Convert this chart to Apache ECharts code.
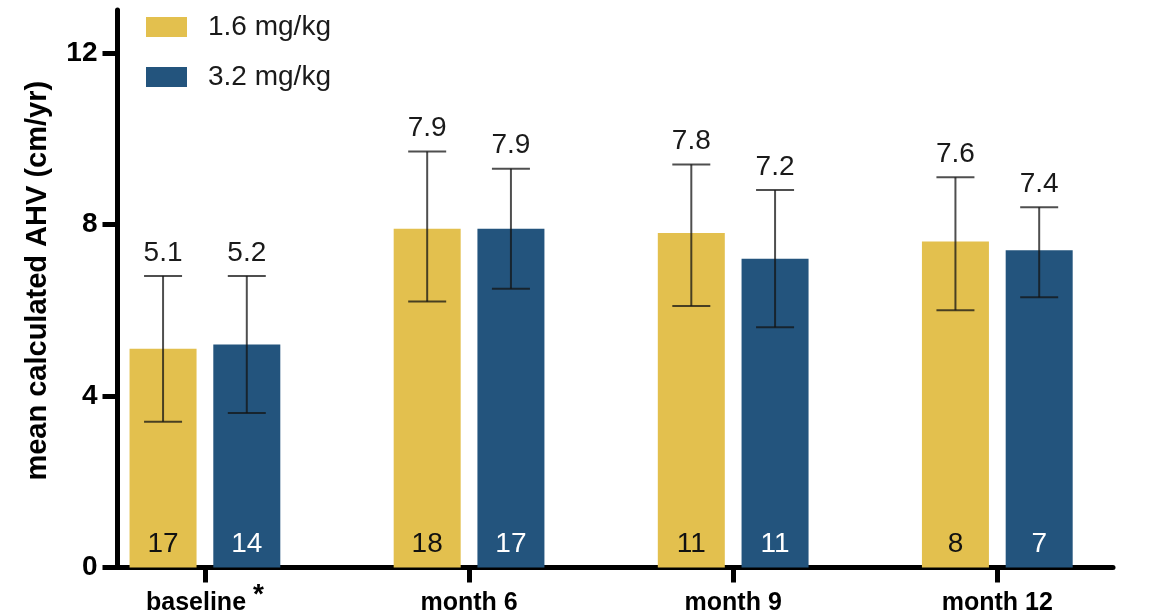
<!DOCTYPE html>
<html>
<head>
<meta charset="utf-8">
<script src="https://cdn.jsdelivr.net/npm/echarts@6/dist/echarts.min.js"></script>
<style>
html,body{margin:0;padding:0;background:#fff;}
#chart{width:1153px;height:616px;}
</style>
</head>
<body>
<div id="chart"></div>
<script>
// ---- data ----
const categories = ['baseline *', 'month 6', 'month 9', 'month 12'];
const seriesNames = ['1.6 mg/kg', '3.2 mg/kg'];
const mean16 = [5.1, 7.9, 7.8, 7.6];
const mean32 = [5.2, 7.9, 7.2, 7.4];
const low16  = [3.4, 6.2, 6.1, 6.0];
const high16 = [6.8, 9.7, 9.4, 9.1];
const low32  = [3.6, 6.5, 5.6, 6.3];
const high32 = [6.8, 9.3, 8.8, 8.4];
const n16 = [17, 18, 11, 8];
const n32 = [14, 17, 11, 7];
const yTicks = [0, 4, 8, 12];
const catIndex = categories.map((c, i) => i);

// ---- style ----
const FONT = "'Liberation Sans', Arial, sans-serif";
const YELLOW = '#E3C04E';
const BLUE = '#23547D';
const BAR_W = 67;
const GAP_RATIO = 0.25;
const HALF_STEP = (BAR_W + BAR_W * GAP_RATIO) / 2;
const CAP = 38;

function errSeries(name, means, lows, highs, dir) {
  return {
    type: 'custom',
    name: name + ' err',
    z: 5,
    silent: true,
    encode: { x: 0, y: [1, 2] },
    data: means.map((m, i) => [i, lows[i], highs[i], m]),
    renderItem: function (params, api) {
      const i = api.value(0);
      const lo = api.coord([i, api.value(1)]);
      const hi = api.coord([i, api.value(2)]);
      const x = lo[0] + dir * HALF_STEP;
      const st = { stroke: 'rgba(20,20,20,0.75)', lineWidth: 2 };
      return {
        type: 'group',
        children: [
          { type: 'line', shape: { x1: x, y1: lo[1], x2: x, y2: hi[1] }, style: st },
          { type: 'line', shape: { x1: x - CAP / 2, y1: hi[1], x2: x + CAP / 2, y2: hi[1] }, style: st },
          { type: 'line', shape: { x1: x - CAP / 2, y1: lo[1], x2: x + CAP / 2, y2: lo[1] }, style: st },
          { type: 'text', x: x, y: hi[1] - 9,
            style: { text: api.value(3).toFixed(1), fill: '#1a1a1a', font: '28px ' + FONT,
                     textAlign: 'center', textVerticalAlign: 'bottom' } }
        ]
      };
    }
  };
}

function barSeries(name, means, ns, color, labelColor) {
  return {
    type: 'bar',
    name: name,
    barWidth: BAR_W,
    barGap: (GAP_RATIO * 100) + '%',
    itemStyle: { color: color },
    data: means.map((m, i) => [i, m]),
    label: {
      show: true,
      position: 'insideBottom',
      distance: 9,
      color: labelColor,
      fontFamily: FONT,
      fontSize: 28,
      formatter: p => String(ns[p.dataIndex])
    }
  };
}

const chart = echarts.init(document.getElementById('chart'), null, { renderer: 'canvas' });
chart.setOption({
  animation: false,
  backgroundColor: '#fff',
  textStyle: { fontFamily: FONT },
  grid: { left: 117.5, right: 40, top: 10, bottom: 48.5, containLabel: false, outerBoundsMode: 'none' },
  legend: {
    orient: 'vertical',
    left: 141,
    top: 7,
    itemWidth: 41,
    itemHeight: 20,
    itemGap: 20,
    icon: 'rect',
    data: seriesNames,
    textStyle: { fontFamily: FONT, fontSize: 28, lineHeight: 30, color: '#1a1a1a', padding: [0, 0, 0, 16] }
  },
  xAxis: {
    type: 'value',
    min: -0.331,
    max: 3.438,
    splitLine: { show: false },
    axisLine: { show: true, onZero: false, lineStyle: { color: '#000', width: 5 } },
    axisTick: { show: true, length: 15, customValues: catIndex, lineStyle: { color: '#000', width: 5 } },
    axisLabel: {
      customValues: catIndex,
      margin: 21,
      formatter: function (v) {
        const c = categories[Math.round(v)] || '';
        if (c.endsWith('*')) return '{a|' + c.slice(0, -1) + '}{s|*}';
        return '{a|' + c + '}';
      },
      rich: {
        a: { fontFamily: FONT, fontSize: 25, fontWeight: 'bold', color: '#000', lineHeight: 30 },
        s: { fontFamily: FONT, fontSize: 28, fontWeight: 'bold', color: '#000', lineHeight: 30, padding: [0, 0, 16, 0] }
      }
    }
  },
  yAxis: {
    type: 'value',
    min: 0,
    max: 13,
    name: 'mean calculated AHV (cm/yr)',
    nameLocation: 'middle',
    nameGap: 65,
    nameTextStyle: { fontFamily: FONT, fontSize: 29, fontWeight: 'bold', color: '#000', padding: [0, 0, 0, 16] },
    splitLine: { show: false },
    axisLine: { show: true, onZero: false, lineStyle: { color: '#000', width: 5 } },
    axisTick: { show: true, length: 15, customValues: yTicks, lineStyle: { color: '#000', width: 5 } },
    axisLabel: { customValues: yTicks, margin: 20, fontFamily: FONT, fontSize: 28, fontWeight: 'bold', color: '#000' }
  },
  series: [
    barSeries(seriesNames[0], mean16, n16, YELLOW, '#111'),
    barSeries(seriesNames[1], mean32, n32, BLUE, '#fff'),
    errSeries(seriesNames[0], mean16, low16, high16, -1),
    errSeries(seriesNames[1], mean32, low32, high32, 1)
  ]
});
</script>
</body>
</html>
